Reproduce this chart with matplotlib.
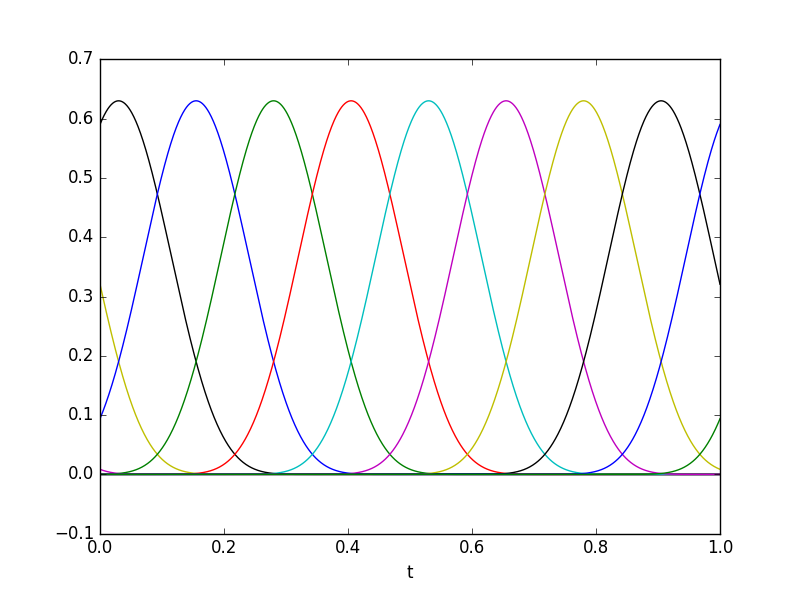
import numpy as np
import matplotlib
matplotlib.use("Agg")
import matplotlib.pyplot as plt

plt.style.use("classic")

# Bump centres (peak positions, step 0.125), in drawing order
centers = [-0.72, -0.595, -0.47, -0.345, -0.22, -0.095, 0.03, 0.155,
           0.28, 0.405, 0.53, 0.655, 0.78, 0.905, 1.03, 1.155]
colors = ["b", "g", "r", "c", "m", "y", "k"]
amplitude = 0.63
half_support = 0.35
power = 7.2

xticks = [0.0, 0.2, 0.4, 0.6, 0.8, 1.0]
yticks = [-0.1, 0.0, 0.1, 0.2, 0.3, 0.4, 0.5, 0.6, 0.7]

t = np.linspace(0.0, 1.0, 1500)

fig = plt.figure(figsize=(8.0, 5.93), dpi=100)
ax = fig.add_subplot(111)

for i, c in enumerate(centers):
    d = np.abs(t - c)
    y = np.where(d < half_support,
                 amplitude * np.cos(np.pi * np.clip(d, 0, half_support) / (2 * half_support)) ** power,
                 0.0)
    ax.plot(t, y, color=colors[i % len(colors)], linewidth=1.0)

ax.set_xlim(0.0, 1.0)
ax.set_ylim(-0.1, 0.7)
ax.set_xticks(xticks)
ax.set_yticks(yticks)
ax.set_xlabel("t")

fig.savefig("out.png", dpi=100)
